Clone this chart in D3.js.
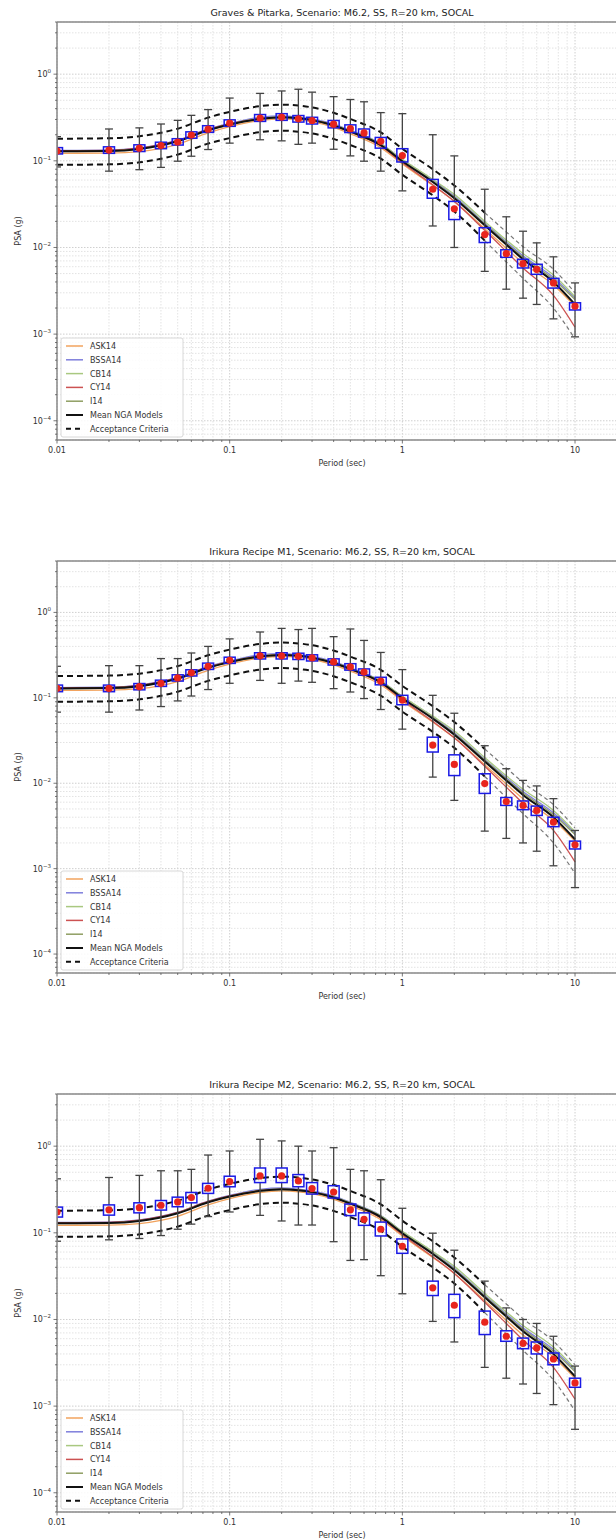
<!DOCTYPE html>
<html>
<head>
<meta charset="utf-8">
<script src="https://cdn.jsdelivr.net/npm/d3@7/dist/d3.min.js"></script>
<style>
body { margin: 0; background: #fff; }
svg { display: block; font-family: "DejaVu Sans", sans-serif; }
</style>
</head>
<body>
<div id="chart-area"></div>
<script>

// periods of the simulated spectra (boxplots)
var periods = [0.01, 0.02, 0.03, 0.04, 0.05, 0.06, 0.075, 0.1, 0.15, 0.2, 0.25, 0.3, 0.4, 0.5, 0.6, 0.75, 1, 1.5, 2, 3, 4, 5, 6, 7.5, 10];

// periods of the NGA model curves
var curvePeriods = [0.01, 0.02, 0.03, 0.05, 0.075, 0.1, 0.15, 0.2, 0.25, 0.3, 0.4, 0.5, 0.75, 1, 1.5, 2, 3, 4, 5, 7.5, 10];

var ask14  = [0.122, 0.123, 0.128, 0.155, 0.210, 0.248, 0.292, 0.305, 0.298, 0.283, 0.243, 0.205, 0.142, 0.092, 0.052, 0.034, 0.0165, 0.0098, 0.0066, 0.0037, 0.0021];
var bssa14 = [0.132, 0.133, 0.141, 0.173, 0.232, 0.270, 0.318, 0.330, 0.320, 0.305, 0.265, 0.225, 0.158, 0.103, 0.060, 0.039, 0.0190, 0.0116, 0.0080, 0.0045, 0.0026];
var cb14   = [0.130, 0.131, 0.138, 0.170, 0.228, 0.265, 0.308, 0.320, 0.312, 0.298, 0.260, 0.222, 0.157, 0.104, 0.061, 0.041, 0.0200, 0.0122, 0.0085, 0.0048, 0.0027];
var cy14   = [0.131, 0.132, 0.140, 0.172, 0.230, 0.266, 0.306, 0.318, 0.310, 0.296, 0.256, 0.215, 0.148, 0.095, 0.053, 0.034, 0.0158, 0.0090, 0.0058, 0.0028, 0.0012];
var i14    = [0.128, 0.130, 0.137, 0.169, 0.226, 0.262, 0.303, 0.316, 0.309, 0.294, 0.256, 0.218, 0.153, 0.099, 0.058, 0.038, 0.0186, 0.0112, 0.0077, 0.0043, 0.0025];
var meanNGA = [0.129, 0.130, 0.137, 0.168, 0.225, 0.262, 0.305, 0.318, 0.310, 0.295, 0.256, 0.217, 0.152, 0.099, 0.057, 0.037, 0.0180, 0.0108, 0.0073, 0.0040, 0.0022];
var accUpper = [0.180, 0.182, 0.192, 0.235, 0.315, 0.367, 0.427, 0.445, 0.434, 0.413, 0.358, 0.304, 0.213, 0.138, 0.080, 0.052, 0.0252, 0.0151, 0.0102, 0.0056, 0.0030];
var accLower = [0.090, 0.091, 0.096, 0.118, 0.158, 0.183, 0.214, 0.223, 0.217, 0.207, 0.179, 0.152, 0.106, 0.069, 0.040, 0.026, 0.0120, 0.0068, 0.0044, 0.0020, 0.00088];

// Graves & Pitarka
var gpMed = [0.130, 0.133, 0.140, 0.150, 0.165, 0.198, 0.232, 0.272, 0.312, 0.320, 0.305, 0.292, 0.265, 0.235, 0.210, 0.168, 0.115, 0.047, 0.028, 0.0141, 0.0085, 0.0065, 0.0056, 0.0039, 0.0021];
var gpQ1  = [0.120, 0.122, 0.128, 0.138, 0.152, 0.182, 0.213, 0.250, 0.285, 0.293, 0.280, 0.266, 0.240, 0.212, 0.188, 0.140, 0.097, 0.037, 0.021, 0.0114, 0.0077, 0.0058, 0.0049, 0.0034, 0.0019];
var gpQ3  = [0.142, 0.145, 0.153, 0.164, 0.180, 0.216, 0.254, 0.297, 0.342, 0.350, 0.333, 0.318, 0.292, 0.260, 0.233, 0.186, 0.138, 0.061, 0.034, 0.0169, 0.0094, 0.0073, 0.0064, 0.0044, 0.0023];
var gpLo  = [0.085, 0.076, 0.079, 0.084, 0.099, 0.113, 0.135, 0.160, 0.175, 0.170, 0.155, 0.160, 0.136, 0.114, 0.099, 0.076, 0.045, 0.0177, 0.010, 0.0053, 0.0033, 0.0026, 0.0022, 0.0015, 0.00093];
var gpHi  = [0.190, 0.233, 0.240, 0.266, 0.293, 0.335, 0.390, 0.530, 0.600, 0.640, 0.670, 0.620, 0.550, 0.510, 0.480, 0.360, 0.350, 0.200, 0.114, 0.047, 0.0226, 0.0154, 0.0113, 0.0078, 0.0039];

// Irikura Recipe M1
var m1Med = [0.129, 0.129, 0.135, 0.148, 0.171, 0.196, 0.234, 0.275, 0.310, 0.310, 0.306, 0.293, 0.263, 0.230, 0.200, 0.157, 0.094, 0.028, 0.0166, 0.0099, 0.0061, 0.0055, 0.0048, 0.0035, 0.0019];
var m1Q1  = [0.118, 0.118, 0.124, 0.136, 0.157, 0.180, 0.215, 0.253, 0.285, 0.285, 0.281, 0.270, 0.242, 0.211, 0.184, 0.142, 0.083, 0.0232, 0.0123, 0.0076, 0.0055, 0.0049, 0.0042, 0.0031, 0.0017];
var m1Q3  = [0.141, 0.141, 0.147, 0.161, 0.186, 0.213, 0.255, 0.299, 0.337, 0.337, 0.333, 0.319, 0.286, 0.251, 0.218, 0.174, 0.107, 0.0346, 0.0215, 0.0129, 0.0068, 0.0062, 0.0054, 0.0040, 0.0021];
var m1Lo  = [0.068, 0.068, 0.072, 0.079, 0.092, 0.105, 0.125, 0.148, 0.160, 0.148, 0.157, 0.152, 0.128, 0.117, 0.098, 0.073, 0.043, 0.0118, 0.0063, 0.00275, 0.00226, 0.0020, 0.0016, 0.00108, 0.0006];
var m1Hi  = [0.234, 0.238, 0.238, 0.288, 0.288, 0.335, 0.400, 0.490, 0.590, 0.650, 0.630, 0.650, 0.520, 0.640, 0.470, 0.340, 0.214, 0.107, 0.066, 0.0275, 0.0148, 0.0108, 0.0093, 0.0066, 0.0028];

// Irikura Recipe M2
var m2Med = [0.174, 0.184, 0.195, 0.208, 0.227, 0.255, 0.327, 0.390, 0.454, 0.454, 0.397, 0.324, 0.296, 0.184, 0.143, 0.110, 0.070, 0.0232, 0.0146, 0.0093, 0.0064, 0.0053, 0.0047, 0.0035, 0.00185];
var m2Q1  = [0.152, 0.160, 0.170, 0.183, 0.200, 0.222, 0.285, 0.340, 0.380, 0.380, 0.340, 0.280, 0.252, 0.158, 0.122, 0.092, 0.058, 0.0189, 0.0105, 0.0067, 0.0056, 0.0046, 0.0040, 0.0030, 0.00165];
var m2Q3  = [0.198, 0.210, 0.222, 0.236, 0.258, 0.292, 0.372, 0.450, 0.560, 0.560, 0.470, 0.380, 0.350, 0.215, 0.170, 0.133, 0.085, 0.0277, 0.0195, 0.0125, 0.0074, 0.0061, 0.0055, 0.0041, 0.0021];
var m2Lo  = [0.080, 0.083, 0.086, 0.093, 0.110, 0.126, 0.154, 0.174, 0.159, 0.137, 0.123, 0.123, 0.079, 0.048, 0.049, 0.032, 0.0198, 0.0095, 0.0055, 0.0028, 0.0021, 0.0018, 0.0014, 0.00104, 0.00054];
var m2Hi  = [0.420, 0.435, 0.460, 0.520, 0.520, 0.540, 0.790, 0.880, 1.200, 1.150, 1.000, 0.880, 0.960, 0.540, 0.520, 0.410, 0.192, 0.099, 0.063, 0.0277, 0.0136, 0.0100, 0.0090, 0.0064, 0.0029];

var titles = [
    "Graves & Pitarka, Scenario: M6.2, SS, R=20 km, SOCAL",
    "Irikura Recipe M1, Scenario: M6.2, SS, R=20 km, SOCAL",
    "Irikura Recipe M2, Scenario: M6.2, SS, R=20 km, SOCAL"
];
var modelNames = ["ASK14", "BSSA14", "CB14", "CY14", "I14"];
var modelColors = ["#f2a35e", "#7f7fdc", "#a9c880", "#cc5252", "#8f9e62"];
var xTicks = [0.01, 0.1, 1, 10];
var xTickLabels = ["0.01", "0.1", "1", "10"];
var yTicks = [1e-4, 1e-3, 1e-2, 1e-1, 1];
var yTickExp = ["\u22124", "\u22123", "\u22122", "\u22121", "0"];

var width = 616, height = 1539;
var plotLeft = 57, plotRight = 627;
var panelTops = [22, 561, 1094];
var panelBottoms = [440, 973, 1512];
var sims = [
    {med: gpMed, q1: gpQ1, q3: gpQ3, lo: gpLo, hi: gpHi},
    {med: m1Med, q1: m1Q1, q3: m1Q3, lo: m1Lo, hi: m1Hi},
    {med: m2Med, q1: m2Q1, q3: m2Q3, lo: m2Lo, hi: m2Hi}
];

var svg = d3.select("#chart-area").append("svg")
    .attr("width", width)
    .attr("height", height);

for (var p = 0; p < 3; p++) {
    drawPanel(p);
}

function drawPanel(p) {
    var top = panelTops[p], bottom = panelBottoms[p];
    var sim = sims[p];

    var x = d3.scaleLog().domain([0.01, 20]).range([plotLeft, plotRight]);
    var y = d3.scaleLog().domain([6e-5, 4]).range([bottom, top]);

    var g = svg.append("g");

    g.append("clipPath").attr("id", "clip" + p)
        .append("rect")
        .attr("x", plotLeft).attr("y", top)
        .attr("width", plotRight - plotLeft).attr("height", bottom - top);

    // grid (minor + major), all dotted
    var grid = g.append("g");
    grid.selectAll(".gx").data(x.ticks())
        .join("line")
        .attr("x1", d => x(d)).attr("x2", d => x(d))
        .attr("y1", top).attr("y2", bottom)
        .style("stroke", d => xTicks.indexOf(d) >= 0 ? "#cfcfcf" : "#dcdcdc")
        .style("stroke-width", d => xTicks.indexOf(d) >= 0 ? 1 : 0.8)
        .style("stroke-dasharray", "1.5,1.5");
    grid.selectAll(".gy").data(y.ticks())
        .join("line")
        .attr("y1", d => y(d)).attr("y2", d => y(d))
        .attr("x1", plotLeft).attr("x2", plotRight)
        .style("stroke", d => yTicks.indexOf(d) >= 0 ? "#cfcfcf" : "#dcdcdc")
        .style("stroke-width", d => yTicks.indexOf(d) >= 0 ? 1 : 0.8)
        .style("stroke-dasharray", "1.5,1.5");

    var plot = g.append("g").attr("clip-path", "url(#clip" + p + ")");

    var line = d3.line()
        .x(d => x(d[0]))
        .y(d => y(d[1]))
        .curve(d3.curveMonotoneX);

    var models = [ask14, bssa14, cb14, cy14, i14];
    models.forEach(function(vals, k) {
        plot.append("path")
            .datum(curvePeriods.map((t, i) => [t, vals[i]]))
            .attr("d", line)
            .style("fill", "none")
            .style("stroke", modelColors[k])
            .style("stroke-width", 1.3);
    });

    plot.append("path")
        .datum(curvePeriods.map((t, i) => [t, meanNGA[i]]))
        .attr("d", line)
        .style("fill", "none")
        .style("stroke", "#111")
        .style("stroke-width", 2);

    // acceptance criteria: thick black up to 3 s, thin grey beyond
    [accUpper, accLower].forEach(function(vals) {
        var pts = curvePeriods.map((t, i) => [t, vals[i]]);
        plot.append("path")
            .datum(pts.filter(d => d[0] <= 3))
            .attr("d", line)
            .style("fill", "none")
            .style("stroke", "#111")
            .style("stroke-width", 2)
            .style("stroke-dasharray", "6,4");
        plot.append("path")
            .datum(pts.filter(d => d[0] >= 3))
            .attr("d", line)
            .style("fill", "none")
            .style("stroke", "#777")
            .style("stroke-width", 1.2)
            .style("stroke-dasharray", "4,3");
    });

    // boxplots
    var boxW = 11, capW = 8;
    var bx = plot.selectAll(".box").data(periods).join("g");
    bx.append("line")
        .attr("x1", d => x(d)).attr("x2", d => x(d))
        .attr("y1", (d, i) => y(sim.hi[i])).attr("y2", (d, i) => y(sim.q3[i]))
        .style("stroke", "#444").style("stroke-width", 1.3);
    bx.append("line")
        .attr("x1", d => x(d)).attr("x2", d => x(d))
        .attr("y1", (d, i) => y(sim.q1[i])).attr("y2", (d, i) => y(sim.lo[i]))
        .style("stroke", "#444").style("stroke-width", 1.3);
    bx.append("line")
        .attr("x1", d => x(d) - capW / 2).attr("x2", d => x(d) + capW / 2)
        .attr("y1", (d, i) => y(sim.hi[i])).attr("y2", (d, i) => y(sim.hi[i]))
        .style("stroke", "#444").style("stroke-width", 1.3);
    bx.append("line")
        .attr("x1", d => x(d) - capW / 2).attr("x2", d => x(d) + capW / 2)
        .attr("y1", (d, i) => y(sim.lo[i])).attr("y2", (d, i) => y(sim.lo[i]))
        .style("stroke", "#444").style("stroke-width", 1.3);
    bx.append("rect")
        .attr("x", d => x(d) - boxW / 2)
        .attr("width", boxW)
        .attr("y", (d, i) => y(sim.q3[i]))
        .attr("height", (d, i) => y(sim.q1[i]) - y(sim.q3[i]))
        .style("fill", "none")
        .style("stroke", "#1a1ae6")
        .style("stroke-width", 1.5);
    bx.append("circle")
        .attr("cx", d => x(d))
        .attr("cy", (d, i) => y(sim.med[i]))
        .attr("r", 3.6)
        .style("fill", "#e8251d");

    // spines
    g.append("line").attr("x1", plotLeft).attr("x2", plotRight).attr("y1", top).attr("y2", top)
        .style("stroke", "#888").style("stroke-width", 1.5);
    g.append("line").attr("x1", plotLeft).attr("x2", plotRight).attr("y1", bottom).attr("y2", bottom)
        .style("stroke", "#888").style("stroke-width", 1.5);
    g.append("line").attr("x1", plotLeft).attr("x2", plotLeft).attr("y1", top).attr("y2", bottom)
        .style("stroke", "#888").style("stroke-width", 1.5);

    // tick marks
    g.selectAll(".tx").data(x.ticks()).join("line")
        .attr("x1", d => x(d)).attr("x2", d => x(d))
        .attr("y1", bottom).attr("y2", d => bottom + (xTicks.indexOf(d) >= 0 ? 3.5 : 2))
        .style("stroke", "#555").style("stroke-width", 0.8);
    g.selectAll(".ty").data(y.ticks()).join("line")
        .attr("y1", d => y(d)).attr("y2", d => y(d))
        .attr("x1", plotLeft).attr("x2", d => plotLeft - (yTicks.indexOf(d) >= 0 ? 3.5 : 2))
        .style("stroke", "#555").style("stroke-width", 0.8);

    g.selectAll(".lx").data(xTicks).join("text")
        .attr("x", d => x(d))
        .attr("y", bottom + 13)
        .attr("text-anchor", "middle")
        .style("font-size", "8px")
        .style("fill", "#333")
        .text((d, i) => xTickLabels[i]);

    var ly = g.selectAll(".ly").data(yTicks).join("text")
        .attr("x", plotLeft - 6)
        .attr("y", d => y(d) + 3)
        .attr("text-anchor", "end")
        .style("font-size", "8px")
        .style("fill", "#333");
    ly.append("tspan").text("10");
    ly.append("tspan").attr("dy", -4).style("font-size", "5.5px").text((d, i) => yTickExp[i]);

    g.append("text")
        .attr("transform", "translate(21," + ((top + bottom) / 2) + ") rotate(-90)")
        .attr("text-anchor", "middle")
        .style("font-size", "8px")
        .style("fill", "#333")
        .text("PSA (g)");

    g.append("text")
        .attr("x", (plotLeft + plotRight) / 2)
        .attr("y", bottom + 26)
        .attr("text-anchor", "middle")
        .style("font-size", "8px")
        .style("fill", "#333")
        .text("Period (sec)");

    g.append("text")
        .attr("x", (plotLeft + plotRight) / 2)
        .attr("y", top - 6)
        .attr("text-anchor", "middle")
        .style("font-size", "9.5px")
        .style("fill", "#222")
        .text(titles[p]);

    // legend
    var legX = plotLeft + 4, legW = 122, legH = 99;
    var legY = bottom - 3 - legH;
    var leg = g.append("g");
    leg.append("rect")
        .attr("x", legX).attr("y", legY)
        .attr("width", legW).attr("height", legH)
        .attr("rx", 2)
        .style("fill", "rgba(255,255,255,0.85)")
        .style("stroke", "#d8d8d8");
    var entries = modelNames.map((n, k) => ({name: n, color: modelColors[k], w: 1.5, dash: null}));
    entries.push({name: "Mean NGA Models", color: "#111", w: 2, dash: null});
    entries.push({name: "Acceptance Criteria", color: "#111", w: 2, dash: "5,4"});
    var le = leg.selectAll(".le").data(entries).join("g")
        .attr("transform", (d, i) => "translate(" + legX + "," + (legY + 8 + i * 13.8) + ")");
    le.append("line")
        .attr("x1", 5).attr("x2", 22)
        .style("stroke", d => d.color)
        .style("stroke-width", d => d.w)
        .style("stroke-dasharray", d => d.dash);
    le.append("text")
        .attr("x", 29).attr("y", 3)
        .style("font-size", "8px")
        .style("fill", "#333")
        .text(d => d.name);
}

</script>
</body>
</html>
